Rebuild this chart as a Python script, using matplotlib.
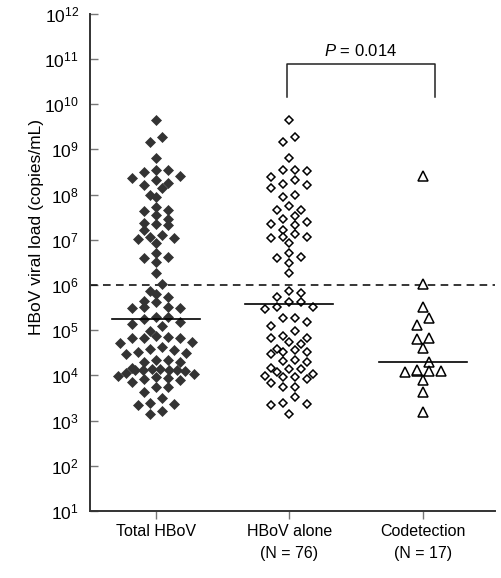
import numpy as np
import matplotlib
matplotlib.use("Agg")
import matplotlib.pyplot as plt

plt.rcParams['font.family'] = ['Liberation Sans', 'DejaVu Sans']
plt.rcParams['mathtext.fontset'] = 'custom'
plt.rcParams['mathtext.rm'] = 'Liberation Sans'
plt.rcParams['mathtext.it'] = 'Liberation Sans:italic'

# ---------------- data (log10 copies/mL) ----------------
categories = ["Total HBoV", "HBoV alone\n(N = 76)", "Codetection\n(N = 17)"]

total_log10 = [
    9.66, 9.27, 9.16, 8.81,
    8.54, 8.50, 8.54, 8.42, 8.37,
    8.26, 8.21, 8.32, 8.14,
    7.94, 8.00,
    7.73, 7.66, 7.64, 7.54, 7.45, 7.35, 7.38, 7.32, 7.21,
    7.06, 7.02, 7.11, 7.05, 6.92,
    6.71, 6.63, 6.60, 6.50,
    6.26,
    6.03,
    5.81, 5.87, 5.74, 5.64, 5.62, 5.52, 5.50, 5.50, 5.51,
    5.29, 5.19, 5.09, 5.14, 5.25, 5.29,
    4.88, 4.83, 4.83, 4.73, 4.83, 4.85, 4.98,
    4.71, 4.58, 4.51, 4.47, 4.50, 4.56, 4.62,
    4.33, 4.30, 4.30, 4.34,
    4.10, 4.02, 4.14, 4.13, 4.13, 4.13, 4.13, 4.14, 4.17, 3.99, 4.05,
    3.96, 3.91, 3.85, 3.90, 3.94,
    3.74, 3.63, 3.74,
    3.51,
    3.39, 3.35, 3.37,
    3.14, 3.21,
]

alone_log10 = [
    9.65,
    9.27, 9.16,
    8.81,
    8.54, 8.52, 8.54, 8.38, 8.32, 8.23, 8.21, 8.15,
    7.95, 8.00,
    7.74, 7.66, 7.65, 7.53, 7.46, 7.39, 7.36, 7.33, 7.21,
    7.07, 7.04, 7.07, 7.13, 6.92,
    6.70, 6.60, 6.63, 6.49,
    6.27,
    5.87, 5.82, 5.74,
    5.62, 5.52, 5.48, 5.52, 5.62,
    5.26, 5.09, 5.19, 5.26,
    4.88, 4.83, 4.74, 4.83, 4.98, 4.70,
    4.58, 4.51, 4.47, 4.51, 4.56, 4.34, 4.30, 4.32,
    4.07, 3.99, 4.15, 4.14, 4.17, 4.02, 3.96, 3.96, 3.91, 3.84, 3.75, 3.74,
    3.52, 3.35, 3.36, 3.39,
    3.14,
]

codetection_log10 = [8.41, 6.02, 5.51, 5.27, 5.12, 4.83, 4.81, 4.60, 4.29,
                     4.10, 4.10, 4.08, 4.10, 4.13, 3.90, 3.63, 3.20]

medians_log10 = [5.25, 5.57, 4.29]
threshold = 1e6
p_text = r"$\it{P}$ = 0.014"

ytick_exponents = list(range(1, 13))

# ---------------- figure ----------------
W, H = 502, 578
fig = plt.figure(figsize=(W / 100, H / 100), dpi=100)
ax_left, ax_right, ax_top, ax_bot = 90, 495, 13.8, 511
ax = fig.add_axes([ax_left / W, 1 - ax_bot / H, (ax_right - ax_left) / W, (ax_bot - ax_top) / H])
ax.set_yscale('log')
ax.set_ylim(1e1, 1e12)
ax.set_xlim(-0.494, 2.54)

fig.canvas.draw()


def row_scatter(xc, vals, row_h=8.0, spacing=12.0, max_w=76.0):
    """Prism-like scatter: bin points into rows of similar height (pixels) and
    spread each row horizontally around the column centre."""
    vals = np.asarray(vals, dtype=float)
    pts = ax.transData.transform(np.column_stack([np.full(len(vals), xc), vals]))
    cx = pts[0, 0]
    order = list(np.argsort(-vals, kind='stable'))
    xs = np.full(len(vals), cx)
    rows, cur, start = [], [], None
    for i in order:
        y = pts[i, 1]
        if cur and start - y > row_h:
            rows.append(cur)
            cur = []
        if not cur:
            start = y
        cur.append(i)
    if cur:
        rows.append(cur)
    for r in rows:
        n = len(r)
        s = spacing if n < 2 else min(spacing, max_w / (n - 1))
        pos = [(k - (n - 1) / 2) * s for k in range(n)]
        pos = sorted(pos, key=lambda p: (abs(p), -p))
        for i, p in zip(r, pos):
            xs[i] = cx + p
    inv = ax.transData.inverted()
    return inv.transform(np.column_stack([xs, pts[:, 1]]))[:, 0]


groups = [total_log10, alone_log10, codetection_log10]
styles = [
    dict(marker='D', ms=4.6, mfc='#333333', mec='#333333', mew=0.5),
    dict(marker='D', ms=4.3, mfc='white', mec='black', mew=1.1),
    dict(marker='^', ms=7.0, mfc='white', mec='black', mew=1.1),
]
for i, (g, st) in enumerate(zip(groups, styles)):
    vals = 10 ** np.asarray(g)
    xs = row_scatter(i, vals)
    ax.plot(xs, vals, linestyle='none', zorder=3, **st)
    m = 10 ** medians_log10[i]
    ax.plot([i - 0.33, i + 0.33], [m, m], color='black', lw=1.2, zorder=4)

ax.axhline(threshold, color='black', lw=1.1, ls=(0, (5, 3.5)), zorder=2)

# significance bracket
bx0, bx1 = 0.98, 2.09
by_top, by_bot = 10 ** 10.89, 10 ** 10.17
ax.plot([bx0, bx0, bx1, bx1], [by_bot, by_top, by_top, by_bot], color='#222222', lw=1.1,
        clip_on=False)
ax.text((bx0 + bx1) / 2, 10 ** 11.0, p_text, ha='center', va='bottom', fontsize=12)

# axes styling
for s in ['top', 'right']:
    ax.spines[s].set_visible(False)
for s in ['left', 'bottom']:
    ax.spines[s].set_color('#333333')
    ax.spines[s].set_linewidth(1.4)

ax.set_yticks([10.0 ** e for e in ytick_exponents])
ax.set_yticklabels([r"$10^{%d}$" % e for e in ytick_exponents])
ax.yaxis.set_minor_locator(matplotlib.ticker.NullLocator())
ax.tick_params(axis='y', direction='in', length=6, width=1.0, color='#777777',
               labelsize=12.5, pad=8)
ax.set_xticks(range(len(categories)))
ax.set_xticklabels(categories, linespacing=1.6)
ax.tick_params(axis='x', direction='out', length=6, width=1.0, color='#777777',
               labelsize=11.5, pad=3)

fig.text(37 / W, 1 - 227 / H, "HBoV viral load (copies/mL)", rotation=90,
         ha='center', va='center', fontsize=12.5)

fig.savefig("out.png", dpi=100)
